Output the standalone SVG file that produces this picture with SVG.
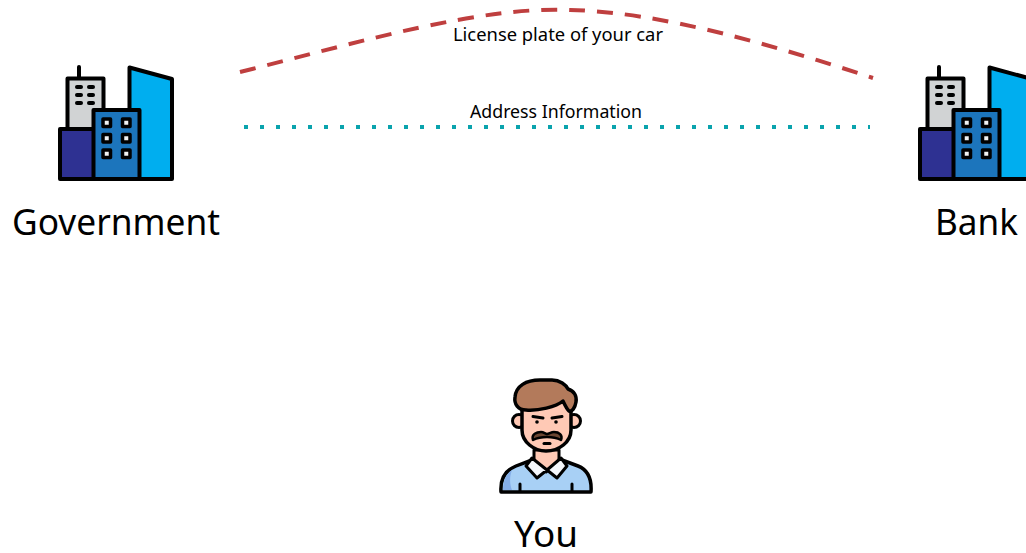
<svg xmlns="http://www.w3.org/2000/svg" xmlns:xlink="http://www.w3.org/1999/xlink" width="1026" height="553" viewBox="0 0 1026 553">
<style>
text{font-family:"Noto Sans","Open Sans",sans-serif;fill:#000}
.big{font-size:36px}
.small{font-size:18px}
.o{stroke:#000;stroke-width:4;stroke-linejoin:round;stroke-linecap:round}
.thin{fill:none;stroke:#000;stroke-width:3;stroke-linecap:round;stroke-linejoin:round}
</style>
<defs>
<g id="building">
<path class="o" d="M79 67V78" fill="none"/>
<rect class="o" x="67.500" y="78.500" width="36" height="52" fill="#d1d3d4"/>
<g fill="#000"><rect x="75" y="85" width="8" height="4" rx="2"/><rect x="87" y="85" width="8" height="4" rx="2"/><rect x="75" y="93" width="8" height="4" rx="2"/><rect x="87" y="93" width="8" height="4" rx="2"/><rect x="75" y="101" width="8" height="4" rx="2"/><rect x="87" y="101" width="8" height="4" rx="2"/></g>
<path class="o" d="M129.500 67.500L172 79V179H129.500Z" fill="#00aeef"/>
<rect class="o" x="60" y="129" width="34" height="50" fill="#2e3192"/>
<rect class="o" x="93.500" y="110" width="46" height="69" fill="#1c75bc"/>
<g fill="#f1f2f2" stroke="#000" stroke-width="3.500" stroke-linejoin="round">
<rect x="103" y="119" width="7.500" height="7.500"/><rect x="122.500" y="119" width="7.500" height="7.500"/>
<rect x="103" y="134.500" width="7.500" height="7.500"/><rect x="122.500" y="134.500" width="7.500" height="7.500"/>
<rect x="103" y="150" width="7.500" height="7.500"/><rect x="122.500" y="150" width="7.500" height="7.500"/>
</g>
</g>
</defs>
<g id="connectors" fill="none">
<path d="M240 72C360 42 480 6 570 10C660 12 770 44 873 78" stroke="#bf3f3f" stroke-width="4" stroke-dasharray="16 12"/>
<path d="M244 127H870" stroke="#0aa3ad" stroke-width="4" stroke-dasharray="4 12"/>
</g>
<g id="label-license"><text class="small" x="453" y="41" textLength="210" lengthAdjust="spacingAndGlyphs">License plate of your car</text></g>
<g id="label-address"><text class="small" x="470" y="118" textLength="172" lengthAdjust="spacingAndGlyphs">Address Information</text></g>
<g id="government">
<use xlink:href="#building" href="#building"/>
<text class="big" x="12" y="235" textLength="208" lengthAdjust="spacingAndGlyphs">Government</text>
</g>
<g id="bank">
<use xlink:href="#building" href="#building" x="860"/>
<text class="big" x="935" y="235" textLength="83" lengthAdjust="spacingAndGlyphs">Bank</text>
</g>
<g id="you">
<path d="M501 492C500 478 506 470 516 466L532 460L546 468L562 460L578 466C588 470 592 478 591 492Z" fill="#a8d0f5" stroke="#000" stroke-width="3.500" stroke-linejoin="round"/>
<path d="M503 490C503 480 507 473 512 470C509 478 510 485 512 490Z" fill="#85aee8"/>
<path d="M534 450V461L546 472L559 461V450Z" fill="#ffc9b5" stroke="#000" stroke-width="3" stroke-linejoin="round"/>
<path d="M532 458L526 466L537 478L547 470L557 478L567 466L561 458L547 470Z" fill="#f5f7fb" stroke="#000" stroke-width="3" stroke-linejoin="round"/>
<path class="thin" d="M520 484V491M572 484V491"/>
<circle cx="519" cy="421" r="6.500" fill="#ffc9b5" stroke="#000" stroke-width="3"/>
<circle cx="574" cy="421" r="6.500" fill="#ffc9b5" stroke="#000" stroke-width="3"/>
<path d="M522 405V430C522 442 534 451 546 451C559 451 571 442 571 430V402L540 400Z" fill="#ffc9b5" stroke="#000" stroke-width="3.500" stroke-linejoin="round"/>
<path d="M526 410C518 410 514 404 515 397C516 386 526 380 540 380H552C560 380 566 385 568 389C574 391 577 396 576 402C575 408 572 412 569 411C566 408 564 403 563 401C556 407 538 411 526 410Z" fill="#b37a5b" stroke="#000" stroke-width="3.500" stroke-linejoin="round"/>
<path d="M533 416.500L543 418M552 418L562 416.500" class="thin" stroke-width="2"/>
<circle cx="537" cy="422" r="1.800"/><circle cx="556" cy="422" r="1.800"/>
<path d="M533 440C531 434 537 432 541 432C544 432 545 434 547 434C549 434 551 432 554 432C559 432 563 435 561 440C557 438 552 437 547 437C541 437 537 438 533 440Z" fill="#6b4632" stroke="#000" stroke-width="2.500" stroke-linejoin="round"/>
<path d="M544 443.500H550" class="thin" stroke-width="2.500"/>
<text class="big" x="514" y="547" textLength="64" lengthAdjust="spacingAndGlyphs">You</text>
</g>
</svg>
